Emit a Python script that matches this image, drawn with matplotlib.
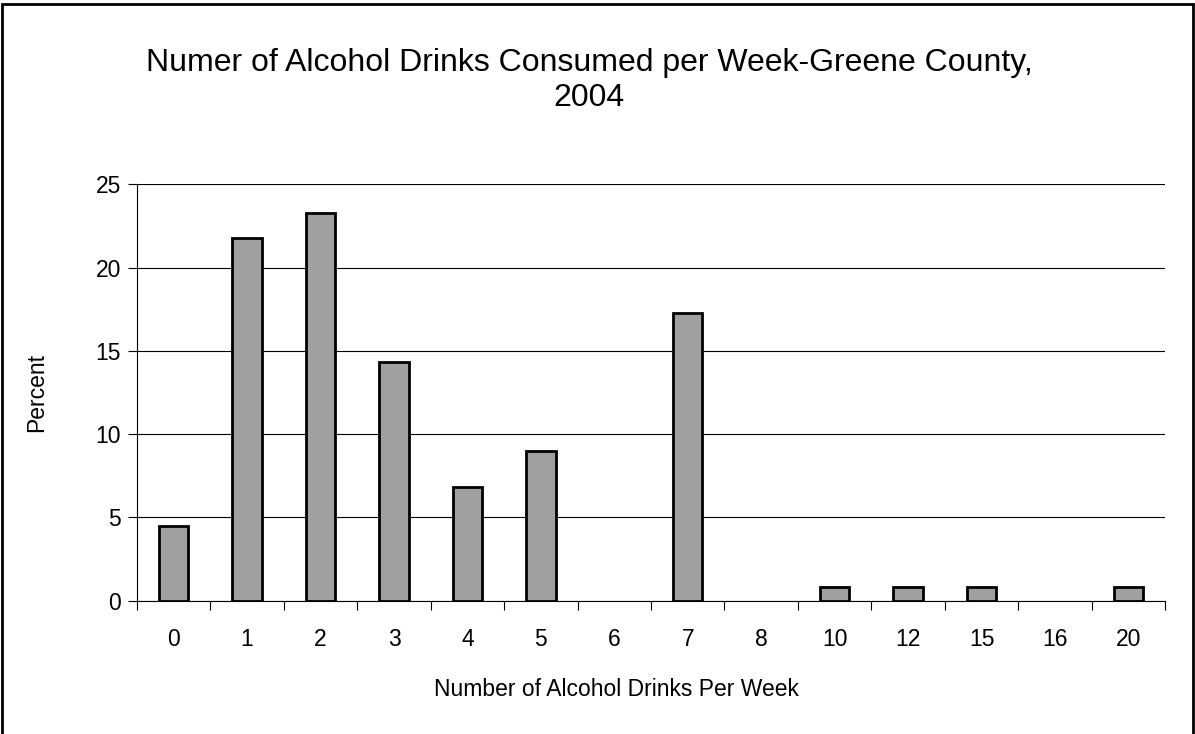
import matplotlib
matplotlib.use("Agg")
import matplotlib.pyplot as plt
import numpy as np

categories = ["0", "1", "2", "3", "4", "5", "6", "7", "8", "10", "12", "15", "16", "20"]
percent = [4.5, 21.8, 23.3, 14.3, 6.8, 9.0, 0, 17.3, 0, 0.8, 0.8, 0.8, 0, 0.8]
y_ticks = [0, 5, 10, 15, 20, 25]

plt.rcParams['font.family'] = ['Liberation Sans', 'DejaVu Sans']

fig = plt.figure(figsize=(11.95, 7.34), dpi=100)
fig.patch.set_facecolor('white')
border = plt.Rectangle((0.002, -0.01), 0.996, 1.005, transform=fig.transFigure,
                       fill=False, edgecolor='black', linewidth=2)
fig.patches.append(border)

ax = fig.add_axes([0.1146, 0.1816, 0.8604, 0.5674])
x = np.arange(len(categories))
bars = ax.bar(x, percent, width=0.4, color='#a0a0a0', edgecolor='black', linewidth=2, zorder=3)
for b, v in zip(bars, percent):
    if v == 0:
        b.set_visible(False)

ax.set_xlim(-0.5, len(categories) - 0.5)
ax.set_ylim(0, 25)
ax.set_yticks(y_ticks)
ax.set_yticklabels([str(v) for v in y_ticks], fontsize=16.5)
ax.yaxis.grid(True, color='black', linewidth=0.8, zorder=0)
ax.set_axisbelow(True)

ax.set_xticks(x)
ax.set_xticklabels(categories, fontsize=16.5)
ax.tick_params(axis='x', length=0, pad=20)
ax.set_xticks(np.arange(-0.5, len(categories)), minor=True)
ax.tick_params(axis='x', which='minor', length=6.5, width=0.8, direction='out')
ax.tick_params(axis='y', length=6.5, width=0.8, direction='out', pad=5)

for s in ['top', 'right']:
    ax.spines[s].set_visible(False)
ax.spines['left'].set_linewidth(0.8)
ax.spines['bottom'].set_linewidth(0.8)

ax.set_xlabel("Number of Alcohol Drinks Per Week", fontsize=16.5, labelpad=16)
ax.xaxis.set_label_coords(0.466, -0.185)
ax.set_ylabel("Percent", fontsize=16.5, labelpad=34)

fig.text(0.493, 0.89, "Numer of Alcohol Drinks Consumed per Week-Greene County,\n2004",
         ha='center', va='center', fontsize=23, linespacing=1.2)

fig.savefig("out.png", dpi=100)
